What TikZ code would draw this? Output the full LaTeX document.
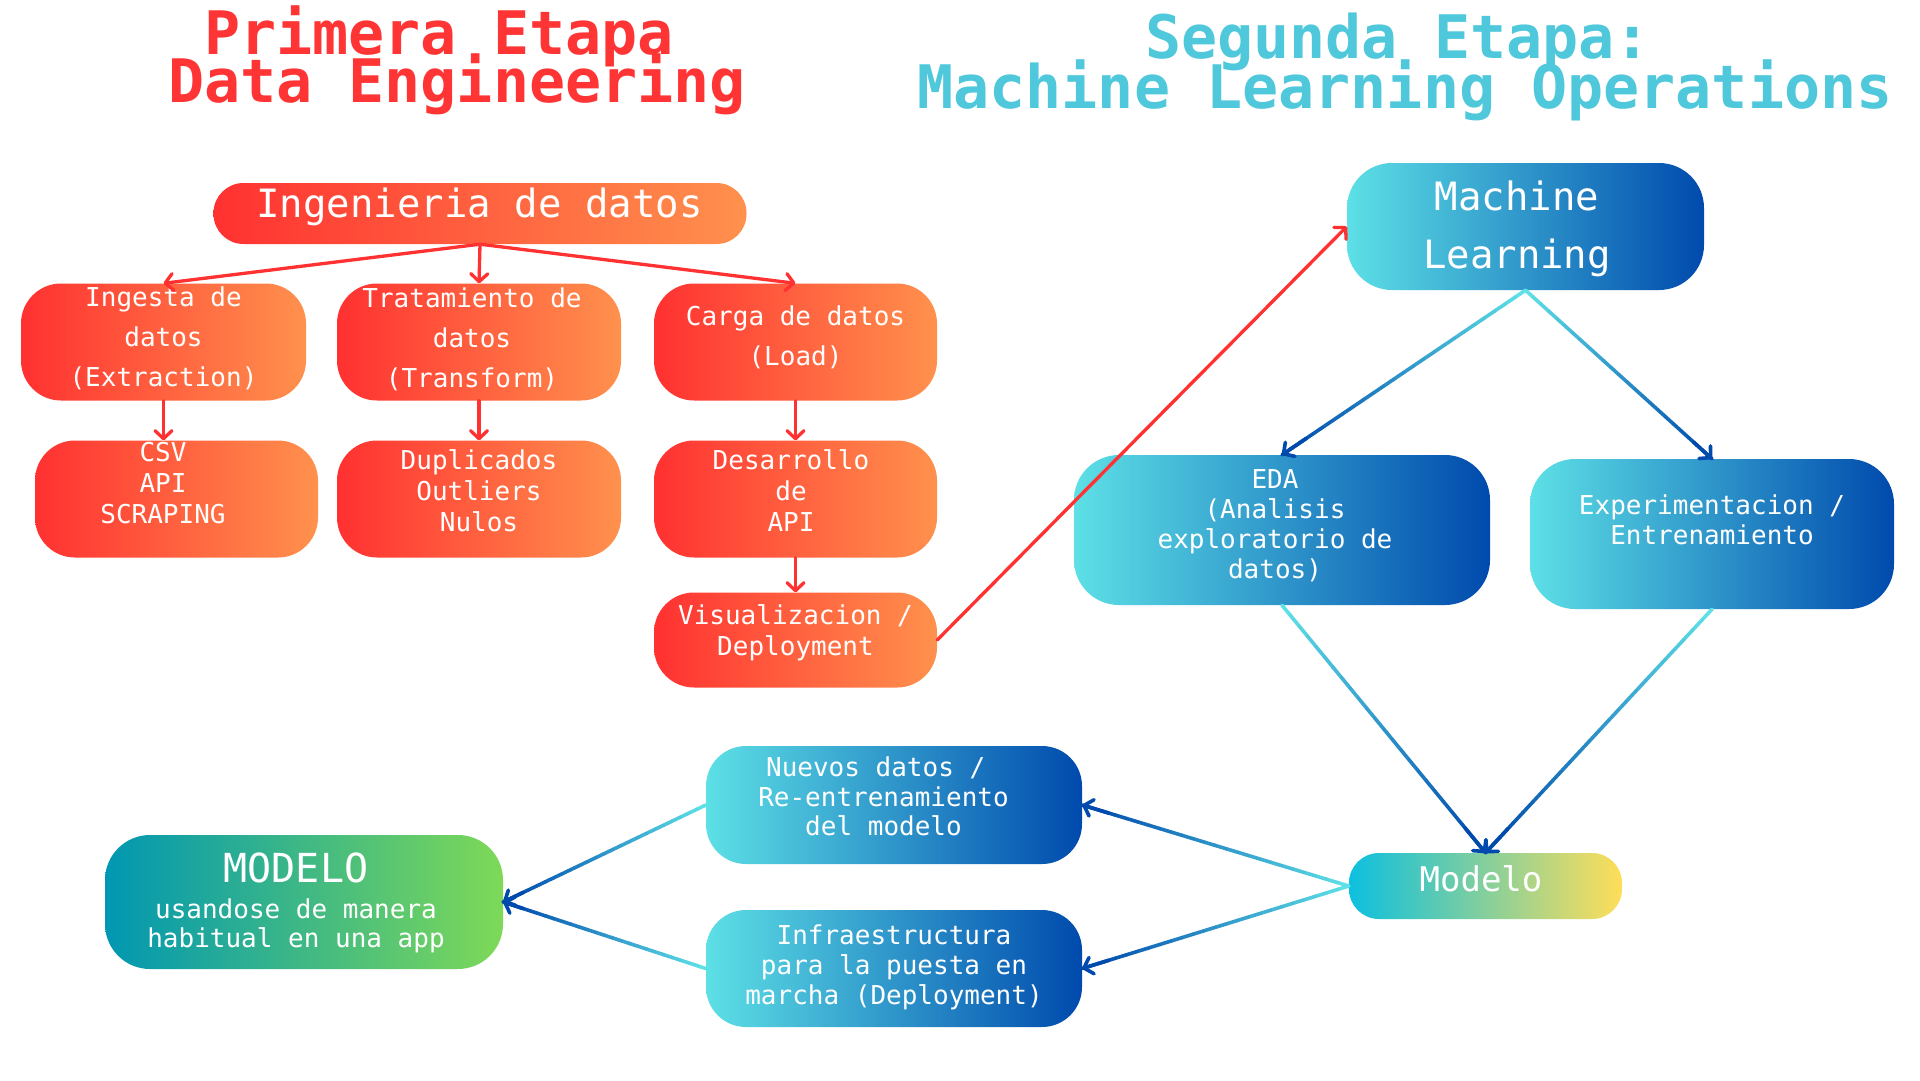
\documentclass[tikz,border=0pt]{standalone}
\usepackage{fontspec}
\setmonofont{DejaVu Sans Mono}
\usetikzlibrary{arrows.meta,calc}
\definecolor{rL}{HTML}{FF3131}
\definecolor{rR}{HTML}{FF914D}
\definecolor{bL}{HTML}{5DE0E6}
\definecolor{bR}{HTML}{004AAD}
\definecolor{yL}{HTML}{0CC0DF}
\definecolor{yR}{HTML}{FFDE59}
\definecolor{gL}{HTML}{0097B2}
\definecolor{gR}{HTML}{7ED957}
\definecolor{tR}{HTML}{FF3535}
\definecolor{tB}{HTML}{4FC8DC}
\newcommand\fs[2]{\fontsize{#1}{#2}\selectfont\ttfamily}
\newcommand\gline[2]{%
  \foreach \k in {0,...,23}{%
    \pgfmathsetmacro\pa{\k/24}%
    \pgfmathsetmacro\pb{(\k+1)/24}%
    \pgfmathsetmacro\pc{100-\k*100/23}%
    \draw[gseg, draw=bL!\pc!bR] ($(#1)!\pa!(#2)$) -- ($(#1)!\pb!(#2)$);
  }%
  \draw[gseg, draw=bR, -{Straight Barb[length=8pt,width=17pt,line cap=round,line join=round]}] ($(#1)!0.9!(#2)$) -- (#2);
}
\tikzset{
  box/.style={draw=none, rectangle, inner sep=0pt},
  redbox/.style={box, rounded corners=40, left color=rL, right color=rR},
  bluebox/.style={box, rounded corners=45, left color=bL, right color=bR},
  txt/.style={text=white, align=center, inner sep=0pt, font=\fs{26}{31}},
  redarrow/.style={draw=rL, line width=3.3, line cap=round, -{Straight Barb[length=8pt,width=17pt,line cap=round,line join=round]}},
  gseg/.style={line width=3.6, line cap=round},
  ttl/.style={anchor=base, inner sep=0pt, font=\fs{60}{60}\bfseries},
}
\begin{document}
\begin{tikzpicture}[x=1pt,y=-1pt]
\useasboundingbox (0,0) rectangle (1920,1080);
\fill[white] (0,0) rectangle (1920,1080);

% titles
\node[ttl, text=tR, text depth=0pt] (t1a) at (439,54.4) {Primera Etapa};
\node[ttl, text=tR, text height=38pt] (t1b) at (457,102.6) {Data Engineering};
\node[ttl, text=tB, text depth=0pt] (t2a) at (1398,58.5) {Segunda Etapa:};
\node[ttl, text=tB, text height=38pt] (t2b) at (1405,108.4) {Machine Learning Operations};

% red boxes
\node[redbox, rounded corners=30, minimum width=533, minimum height=61] (ing) at (480,213.5) {};
\node[redbox, minimum width=285, minimum height=117] (ingesta) at (163.5,342) {};
\node[redbox, minimum width=284, minimum height=117] (trat) at (479,342) {};
\node[redbox, minimum width=283, minimum height=117] (carga) at (795.5,342) {};
\node[redbox, minimum width=283, minimum height=117] (csv) at (176.5,499) {};
\node[redbox, minimum width=284, minimum height=117] (dup) at (479,499) {};
\node[redbox, minimum width=283, minimum height=117] (des) at (795.5,499) {};
\node[redbox, minimum width=283, minimum height=95] (vis) at (795.5,640) {};

% blue boxes
\node[bluebox, minimum width=357, minimum height=127] (ml) at (1525.5,226.5) {};
\node[bluebox, minimum width=416, minimum height=150] (eda) at (1282,530) {};
\node[bluebox, minimum width=364, minimum height=150] (exp) at (1712,534) {};
\node[box, rounded corners=30, left color=yL, right color=yR, minimum width=273, minimum height=66] (mod) at (1485.5,886) {};
\node[bluebox, rounded corners=40, minimum width=376, minimum height=118] (nuevos) at (894,805) {};
\node[bluebox, rounded corners=40, minimum width=376, minimum height=117] (infra) at (894,968.5) {};
\node[box, rounded corners=45, left color=gL, right color=gR, minimum width=398, minimum height=134] (modelo) at (304,902) {};

% texts
\node[txt, anchor=base, font=\fs{39}{39}] (ingT) at (479.5,217.6) {Ingenieria de datos};
\node[txt, font=\fs{26}{40}] (ingestaT) at (163.5,338) {Ingesta de\\datos\\(Extraction)};
\node[txt, font=\fs{26}{40}] (tratT) at (472,339.5) {Tratamiento de\\datos\\(Transform)};
\node[txt, font=\fs{26}{40}] (cargaT) at (795.5,337) {Carga de datos\\(Load)};
\node[txt] (csvT) at (163,483) {CSV\\API\\SCRAPING};
\node[txt] (dupT) at (479,491) {Duplicados\\Outliers\\Nulos};
\node[txt] (desT) at (791,491) {Desarrollo\\de\\API};
\node[txt] (visT) at (795.5,632.6) {Visualizacion /\\Deployment};
\node[txt, font=\fs{39}{58}] (mlT) at (1517,228.9) {Machine\\Learning};
\node[txt, font=\fs{26}{30}] (edaT) at (1275,525.3) {EDA\\(Analisis\\exploratorio de\\datos)};
\node[txt, font=\fs{26}{30}] (expT) at (1712,520) {Experimentacion /\\Entrenamiento};
\node[txt, anchor=base, font=\fs{34}{34}] (modT) at (1481,891.6) {Modelo};
\node[txt, font=\fs{26}{29.5}] (nuevosT) at (883.5,796.6) {Nuevos datos /\hphantom{a}\\Re-entrenamiento\\del modelo};
\node[txt, font=\fs{26}{30}] (infraT) at (894,967.6) {Infraestructura\\para la puesta en\\marcha (Deployment)};
\node[txt, anchor=base, font=\fs{40}{40}] (modeloT) at (296,882) {MODELO};
\node[txt, font=\fs{26}{29}] (modeloS) at (296,926) {usandose de manera\\habitual en una app};

% red connectors
\draw[redarrow] (ing.south) -- (ingesta.north);
\draw[redarrow] (ing.south) -- (trat.north);
\draw[redarrow] (ing.south) -- (carga.north);
\draw[redarrow] (ingesta.south) -- (ingesta.south |- csv.north);
\draw[redarrow] (trat.south) -- (dup.north);
\draw[redarrow] (carga.south) -- (des.north);
\draw[redarrow] (des.south) -- (vis.north);
\draw[redarrow] (vis.east) -- (ml.west);

% gradient connectors
\gline{ml.south}{eda.north}
\gline{ml.south}{exp.north}
\gline{eda.south}{mod.north}
\gline{exp.south}{mod.north}
\gline{mod.west}{nuevos.east}
\gline{mod.west}{infra.east}
\gline{nuevos.west}{modelo.east}
\gline{infra.west}{modelo.east}
\end{tikzpicture}
\end{document}
